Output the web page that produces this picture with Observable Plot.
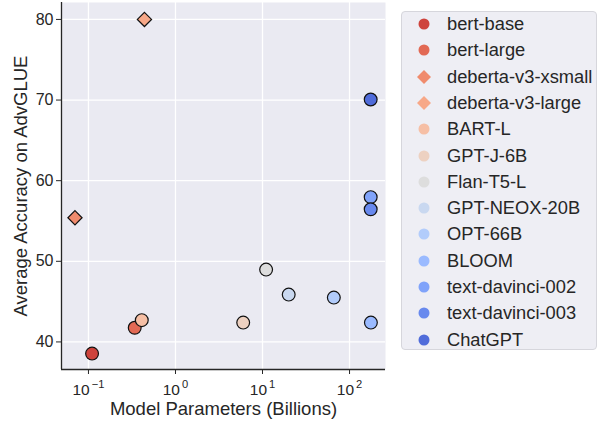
<!DOCTYPE html>
<html>
<head>
<meta charset="utf-8">
<script src="https://cdn.jsdelivr.net/npm/d3@7"></script>
<script src="https://cdn.jsdelivr.net/npm/@observablehq/plot@0.6"></script>
<style>
  html, body { margin: 0; padding: 0; background: #ffffff; }
  #wrap { position: relative; width: 599px; height: 423px; font-family: "Liberation Sans", Arial, sans-serif; color: #262626; }
  #legend { position: absolute; left: 401px; top: 11px; width: 194px; height: 337px; background: #eeeef4; border: 1px solid #d6d6dc; border-radius: 4px; box-sizing: content-box; }
  .row { position: absolute; left: 0; height: 20px; font-size: 18.3px; white-space: nowrap; }
  .row svg { position: absolute; left: 12px; top: 0; }
  .row span { position: absolute; left: 45px; top: 0; line-height: 20px; }
</style>
</head>
<body>
<div id="wrap"></div>
<script>
// ---- data ----
const models = ["bert-base", "bert-large", "deberta-v3-xsmall", "deberta-v3-large", "BART-L", "GPT-J-6B", "Flan-T5-L", "GPT-NEOX-20B", "OPT-66B", "BLOOM", "text-davinci-002", "text-davinci-003", "ChatGPT"];
const params = [0.11, 0.34, 0.07, 0.44, 0.41, 6, 11, 20, 66, 176, 175, 175, 175];
const accuracy = [38.55, 41.75, 55.4, 80.0, 42.7, 42.4, 48.97, 45.87, 45.5, 42.4, 57.96, 56.45, 70.07];
const shapes = ["circle", "circle", "diamond2", "diamond2", "circle", "circle", "circle", "circle", "circle", "circle", "circle", "circle", "circle"];
const xTicks = [0.1, 1, 10, 100];
const yTicks = [40, 50, 60, 70, 80];

// coolwarm_r palette, 13 steps
const palette = ["#ce433c", "#e26954", "#f08b6d", "#f7a888", "#f6bfa5", "#edd1c1", "#dddddd", "#c9d8f0", "#b2ccfb", "#9abaff", "#80a3fa", "#6889ee", "#506cda"];

const data = models.map((m, i) => ({model: m, params: params[i], acc: accuracy[i], shape: shapes[i]}));

const xDomain = [0.049, 259];
const yDomain = [36.58, 82.1];

const ink = "#262626";
const chart = Plot.plot({
  width: 599,
  height: 423,
  marginLeft: 61,
  marginRight: 214,
  marginTop: 2,
  marginBottom: 54,
  style: {fontFamily: "'Liberation Sans', Arial, sans-serif", fontSize: "16px", color: ink, background: "transparent", overflow: "visible"},
  x: {type: "log", domain: xDomain},
  y: {domain: yDomain},
  color: {domain: models, range: palette},
  symbol: {domain: models, range: shapes},
  marks: [
    Plot.frame({fill: "#eaeaf2", stroke: null}),
    Plot.gridX(xTicks, {stroke: "#ffffff", strokeOpacity: 1, strokeWidth: 1.3}),
    Plot.gridY(yTicks, {stroke: "#ffffff", strokeOpacity: 1, strokeWidth: 1.3}),
    Plot.ruleX([xDomain[0]], {stroke: ink, strokeWidth: 1.3}),
    Plot.ruleY([yDomain[0]], {stroke: ink, strokeWidth: 1.3}),
    Plot.axisX(xTicks, {tickSize: 5, tickPadding: 9, label: null, fontSize: 15.5, stroke: ink,
      tickFormat: d => "10^" + Math.round(Math.log10(d))}),
    Plot.axisY(yTicks, {tickSize: 5, tickPadding: 3, label: null, fontSize: 16, stroke: ink}),
    Plot.text(["Model Parameters (Billions)"], {frameAnchor: "bottom", dy: 45, fontSize: 18.5, fill: ink}),
    Plot.text(["Average Accuracy on AdvGLUE"], {frameAnchor: "left", dx: -40, rotate: -90, textAnchor: "middle", fontSize: 18.5, fill: ink}),
    Plot.dot(data, {x: "params", y: "acc", fill: "model", symbol: "model", r: 6.4, stroke: "#111111", strokeWidth: 1.2, fillOpacity: 1})
  ]
});

// superscript exponents on the log-axis tick labels
d3.select(chart).selectAll('g[aria-label="x-axis tick label"] text').each(function() {
  const parts = this.textContent.split("^");
  if (parts.length !== 2) return;
  const el = d3.select(this);
  el.text(null);
  el.append("tspan").text(parts[0]);
  el.append("tspan").attr("dx", "2").attr("dy", "-0.55em").attr("font-size", "0.72em")
    .text(parts[1].replace("-", "\u2212"));
});

const wrap = document.getElementById("wrap");
wrap.appendChild(chart);

// ---- legend ----
const legend = document.createElement("div");
legend.id = "legend";
models.forEach((m, i) => {
  const row = document.createElement("div");
  row.className = "row";
  row.style.top = (2 + 26.3 * i) + "px";
  const s = d3.create("svg").attr("width", 20).attr("height", 20);
  if (shapes[i] === "diamond2") {
    s.append("path").attr("d", "M10,3L17,10L10,17L3,10Z").attr("fill", palette[i]);
  } else {
    s.append("circle").attr("cx", 10).attr("cy", 10).attr("r", 5.5).attr("fill", palette[i]);
  }
  row.appendChild(s.node());
  const t = document.createElement("span");
  t.textContent = m;
  row.appendChild(t);
  legend.appendChild(row);
});
wrap.appendChild(legend);
</script>
</body>
</html>
